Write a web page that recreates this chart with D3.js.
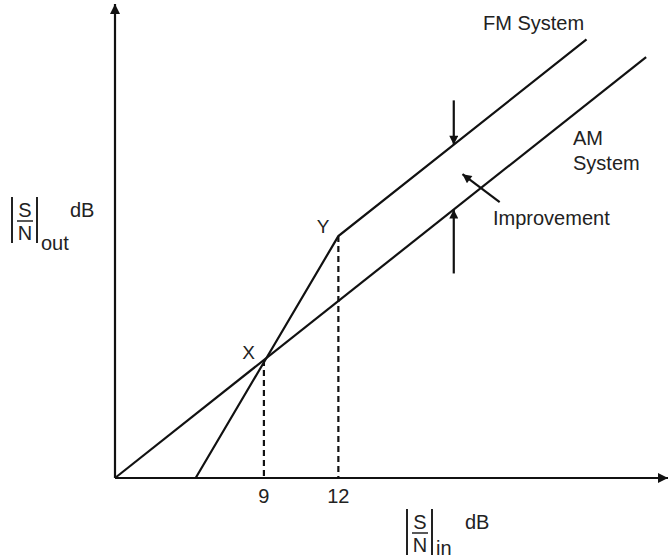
<!DOCTYPE html>
<html>
<head>
<meta charset="utf-8">
<script src="https://cdn.jsdelivr.net/npm/d3@7"></script>
<style>
  body { margin: 0; background: #fff; }
  text { font-family: "Liberation Sans", Arial, sans-serif; fill: #222; }
</style>
</head>
<body>
<svg></svg>
<script>
let width = 668;
let height = 560;

// S/N in (dB) vs S/N out (dB), schematic
let amLine = [[3, 3], [24.4, 24.4]];
let fmLine = [[6.25, 3], [12, 15.3], [22, 25.3]];
let guides = [[9, 9], [12, 15.3]];
let ticks = [9, 12];
let pointNames = ['X', 'Y'];
let downArrow = [[16.65, 22.2], [16.65, 19.95]];
let upArrow = [[16.65, 13.4], [16.65, 16.65]];
let slantArrow = [[18.5, 17.03], [17.0, 18.45]];

let svg = d3.select('svg')
    .attr('width', width)
    .attr('height', height)

let x = d3.scaleLinear()
    .domain([3, 25])
    .range([115, 661])

let y = d3.scaleLinear()
    .domain([3, 27.1])
    .range([478, 4])

let defs = svg.append('defs');
defs.append('marker')
    .attr('id', 'head')
    .attr('markerUnits', 'userSpaceOnUse')
    .attr('viewBox', '0 0 10 10')
    .attr('refX', 10).attr('refY', 5)
    .attr('markerWidth', 11).attr('markerHeight', 9)
    .attr('orient', 'auto')
    .append('path')
    .attr('d', 'M0,0 L10,5 L0,10 Z')
    .attr('fill', '#111')
defs.append('marker')
    .attr('id', 'axhead')
    .attr('markerUnits', 'userSpaceOnUse')
    .attr('viewBox', '0 0 10 10')
    .attr('refX', 10).attr('refY', 5)
    .attr('markerWidth', 12).attr('markerHeight', 10)
    .attr('orient', 'auto')
    .append('path')
    .attr('d', 'M0,0 L10,5 L0,10 Z')
    .attr('fill', '#111')

let line = d3.line()
    .x(d => x(d[0]))
    .y(d => y(d[1]))

// axes
svg.append('line')
    .attr('x1', x(3)).attr('y1', y(3))
    .attr('x2', 668).attr('y2', y(3))
    .attr('stroke', '#111').attr('stroke-width', 2.2)
    .attr('marker-end', 'url(#axhead)')
svg.append('line')
    .attr('x1', x(3)).attr('y1', y(3))
    .attr('x2', x(3)).attr('y2', y(27.1))
    .attr('stroke', '#111').attr('stroke-width', 2.2)
    .attr('marker-end', 'url(#axhead)')

// dashed guides
svg.selectAll('.guide')
    .data(guides)
    .enter()
    .append('line')
    .attr('class', 'guide')
    .attr('x1', d => x(d[0])).attr('y1', d => y(d[1]))
    .attr('x2', d => x(d[0])).attr('y2', y(3))
    .attr('stroke', '#111').attr('stroke-width', 2.2)
    .attr('stroke-dasharray', '6,4')

svg.append('path')
    .attr('d', line(amLine))
    .attr('fill', 'none').attr('stroke', '#111').attr('stroke-width', 2.2)
svg.append('path')
    .attr('d', line(fmLine))
    .attr('fill', 'none').attr('stroke', '#111').attr('stroke-width', 2.2)

// arrows
for (let a of [downArrow, upArrow, slantArrow]) {
    svg.append('path')
        .attr('d', line(a))
        .attr('fill', 'none').attr('stroke', '#111').attr('stroke-width', 2.2)
        .attr('marker-end', 'url(#head)')
}

// tick labels
svg.selectAll('.tick')
    .data(ticks)
    .enter()
    .append('text')
    .attr('x', d => x(d))
    .attr('y', 503)
    .attr('text-anchor', 'middle')
    .attr('font-size', 20)
    .text(d => d)

// point labels
svg.selectAll('.pname')
    .data(guides)
    .enter()
    .append('text')
    .attr('x', d => x(d[0]) - 9)
    .attr('y', (d, i) => y(d[1]) - (i == 0 ? 1 : 3))
    .attr('text-anchor', 'end')
    .attr('font-size', 19)
    .text((d, i) => pointNames[i])

function label(txt, px, py, size) {
    svg.append('text')
        .attr('x', px).attr('y', py)
        .attr('font-size', size)
        .text(txt)
}
label('FM System', 483, 30, 20)
label('AM', 573, 145, 20)
label('System', 573, 170, 20)
label('Improvement', 493, 225, 20)

// |S/N| labels
function snLabel(bx, by, sub, subY) {
    let g = svg.append('g')
    g.append('line').attr('x1', bx).attr('x2', bx).attr('y1', by).attr('y2', by + 46)
        .attr('stroke', '#222').attr('stroke-width', 2)
    g.append('line').attr('x1', bx + 25).attr('x2', bx + 25).attr('y1', by).attr('y2', by + 46)
        .attr('stroke', '#222').attr('stroke-width', 2)
    g.append('text').attr('x', bx + 13).attr('y', by + 20).attr('text-anchor', 'middle')
        .attr('font-size', 20).text('S')
    g.append('line').attr('x1', bx + 5).attr('x2', bx + 21).attr('y1', by + 24).attr('y2', by + 24)
        .attr('stroke', '#222').attr('stroke-width', 1.5)
    g.append('text').attr('x', bx + 13).attr('y', by + 43).attr('text-anchor', 'middle')
        .attr('font-size', 20).text('N')
    g.append('text').attr('x', bx + 29).attr('y', by + subY)
        .attr('font-size', 20).text(sub)
    g.append('text').attr('x', bx + 58).attr('y', by + 20)
        .attr('font-size', 20).text('dB')
}
snLabel(12, 197, 'out', 53)
snLabel(407, 509, 'in', 46)
</script>
</body>
</html>
